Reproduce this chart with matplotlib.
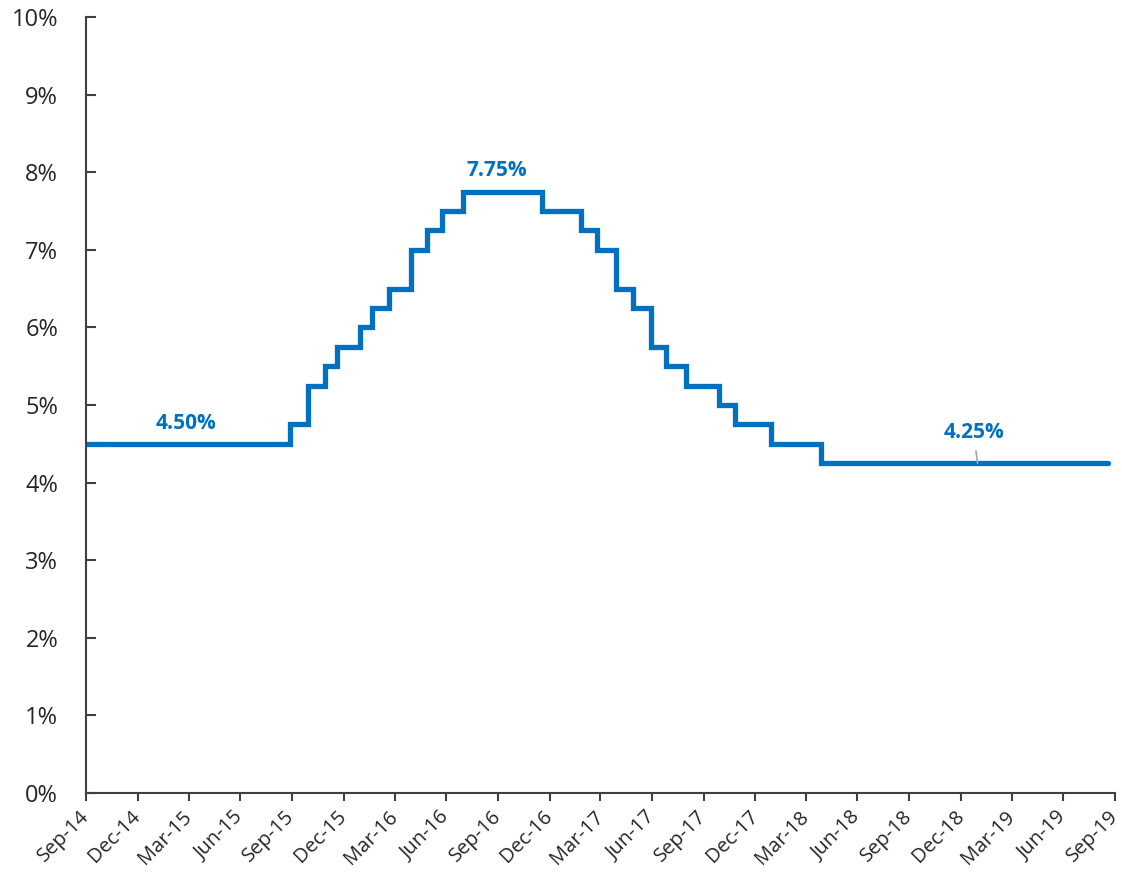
import matplotlib
matplotlib.use("Agg")
import matplotlib.pyplot as plt
import pandas as pd
from matplotlib.ticker import FuncFormatter, MultipleLocator

plt.rcParams['font.family'] = ['Open Sans', 'DejaVu Sans']

# Policy rate change dates and new rate (%)
change_dates = ["2014-09-30", "2015-09-27", "2015-10-29", "2015-11-28", "2015-12-19",
                "2016-01-29", "2016-02-19", "2016-03-21", "2016-04-29", "2016-05-28",
                "2016-06-23", "2016-07-30", "2016-12-18", "2017-02-25", "2017-03-24",
                "2017-04-28", "2017-05-27", "2017-06-28", "2017-07-26", "2017-08-30",
                "2017-10-28", "2017-11-25", "2018-01-28", "2018-04-27", "2019-09-17"]
rates = [4.50, 4.75, 5.25, 5.50, 5.75,
         6.00, 6.25, 6.50, 7.00, 7.25,
         7.50, 7.75, 7.50, 7.25, 7.00,
         6.50, 6.25, 5.75, 5.50, 5.25,
         5.00, 4.75, 4.50, 4.25, 4.25]

tick_dates = pd.date_range("2014-09-30", "2019-09-30", freq="3ME")
tick_labels = [d.strftime("%b-%y") for d in tick_dates]

label_texts = ["4.50%", "7.75%", "4.25%"]
label_dates = ["2015-03-26", "2016-09-28", "2019-01-22"]
label_values = [4.50, 7.75, 4.25]

color = "#0070C0"
dates = pd.to_datetime(change_dates)

fig = plt.figure(figsize=(11.22, 8.76), dpi=100)
ax = fig.add_axes([0.0766, 0.0947, 0.9172, 0.886])

ax.plot(dates, rates, drawstyle="steps-post", color=color, lw=3.8,
        solid_joinstyle="miter", solid_capstyle="round")

ax.set_ylim(0, 10)
ax.set_xlim(pd.Timestamp("2014-09-30"), pd.Timestamp("2019-09-30"))
ax.yaxis.set_major_locator(MultipleLocator(1))
ax.yaxis.set_major_formatter(FuncFormatter(lambda v, p: f"{v:.0f}%"))
ax.set_xticks(tick_dates)
ax.set_xticklabels(tick_labels, rotation=45, ha="right", va="center", rotation_mode="anchor")

for s in ["top", "right"]:
    ax.spines[s].set_visible(False)
for s in ["left", "bottom"]:
    ax.spines[s].set_color("#404040")
    ax.spines[s].set_linewidth(1.5)

ax.tick_params(axis="y", direction="in", length=7, width=1.5, color="#404040",
               labelsize=17, labelcolor="#262626", pad=20)
ax.tick_params(axis="x", direction="out", length=6, width=1.5, color="#404040",
               labelsize=14.5, labelcolor="#262626", pad=9)

# value labels
for i in range(2):
    ax.text(pd.Timestamp(label_dates[i]), label_values[i] + 0.265, label_texts[i],
            color=color, fontsize=15, fontweight="bold", ha="center", va="center")
ax.annotate(label_texts[2], xy=(pd.Timestamp("2019-01-29"), label_values[2]),
            xytext=(pd.Timestamp(label_dates[2]), label_values[2] + 0.40),
            color=color, fontsize=15, fontweight="bold", ha="center", va="center",
            arrowprops=dict(arrowstyle="-", color="#A6A6A6", lw=1.2, shrinkA=4, shrinkB=0))

fig.savefig("out.png", dpi=100)
